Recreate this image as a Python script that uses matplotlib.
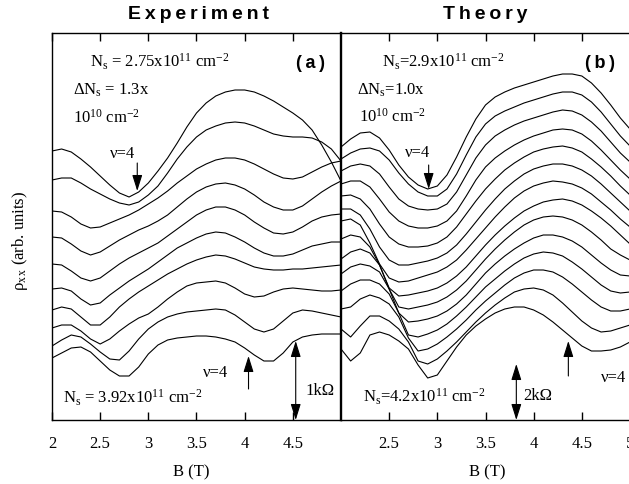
import matplotlib
matplotlib.use('Agg')
import matplotlib.pyplot as plt

plt.rcParams['font.family'] = ['Liberation Serif', 'DejaVu Serif']
plt.rcParams['mathtext.fontset'] = 'custom'
plt.rcParams['mathtext.rm'] = 'Liberation Serif'
plt.rcParams['mathtext.it'] = 'Liberation Serif:italic'

# magnetic field grid (T)
b_field = [2.0, 2.1, 2.2, 2.3, 2.4, 2.5, 2.6, 2.7, 2.8, 2.9, 3.0,
           3.1, 3.2, 3.3, 3.4, 3.5, 3.6, 3.7, 3.8, 3.9, 4.0,
           4.1, 4.2, 4.3, 4.4, 4.5, 4.6, 4.7, 4.8, 4.9, 5.0]

# experiment: rho_xx (arb. units, offset traces), Ns = 2.75 ... 3.92 x10^11 cm^-2
exp_275 = [269, 271, 268, 261, 253, 244, 235, 227, 223, 228, 237, 249, 262, 277, 293, 307,
           317, 324, 328, 330, 330, 328, 324, 319, 313, 307, 300, 290, 275, 258, 239]
exp_288 = [240, 242, 242, 237, 231, 226, 221, 217, 215, 218, 225, 234, 247, 261, 273, 283,
           290, 294, 297, 298, 297, 294, 290, 286, 284, 283, 283, 282, 278, 271, 259]
exp_301 = [209, 208, 203, 196, 192, 193, 197, 201, 205, 210, 216, 222, 229, 237, 244, 251,
           256, 260, 262, 262, 260, 256, 251, 246, 242, 241, 243, 248, 253, 257, 259]
exp_314 = [183, 182, 176, 169, 165, 168, 174, 180, 185, 190, 194, 199, 205, 213, 221, 228,
           233, 236, 237, 235, 231, 225, 218, 213, 210, 210, 214, 221, 228, 234, 239]
exp_327 = [156, 155, 149, 142, 139, 142, 149, 156, 162, 167, 172, 177, 184, 191, 198, 205,
           210, 213, 213, 210, 205, 198, 192, 187, 186, 188, 193, 199, 203, 205, 206]
exp_340 = [131, 132, 129, 121, 115, 117, 125, 132, 139, 145, 151, 158, 165, 172, 177, 182,
           186, 188, 187, 183, 178, 172, 167, 164, 164, 166, 170, 174, 176, 178, 178]
exp_353 = [110, 113, 111, 103, 95, 95, 103, 113, 121, 128, 134, 140, 146, 151, 156, 160,
           163, 165, 164, 161, 157, 153, 151, 150, 150, 151, 151, 152, 153, 154, 155]
exp_366 = [92, 95, 95, 89, 81, 76, 81, 89, 96, 102, 106, 113, 121, 128, 134, 137,
           138, 139, 137, 132, 126, 123, 124, 128, 131, 132, 131, 130, 129, 129, 130]
exp_379 = [74, 80, 85, 83, 76, 68, 61, 60, 69, 81, 91, 98, 103, 106, 108, 109,
           110, 111, 110, 105, 98, 91, 88, 91, 99, 107, 110, 109, 107, 105, 103]
exp_392 = [62, 67, 72, 73, 68, 59, 50, 44, 44, 53, 66, 75, 80, 82, 83, 84,
           84, 83, 81, 78, 72, 65, 59, 59, 67, 78, 83, 85, 86, 86, 86]

# theory: Ns = 2.9 ... 4.2 x10^11 cm^-2
th_290 = [273, 281, 287, 288, 282, 270, 255, 243, 235, 231, 234, 245, 263, 283, 301, 315,
          323, 328, 332, 335, 338, 341, 344, 346, 346, 344, 337, 327, 315, 302, 291]
th_300 = [261, 267, 271, 272, 269, 260, 247, 236, 228, 224, 224, 231, 246, 265, 283, 296,
          304, 309, 313, 317, 320, 323, 326, 328, 328, 325, 318, 308, 296, 284, 274]
th_310 = [249, 254, 256, 254, 246, 233, 221, 214, 211, 210, 211, 216, 228, 245, 262, 275,
          284, 290, 295, 299, 302, 305, 308, 310, 309, 305, 298, 289, 278, 267, 258]
th_320 = [236, 239, 239, 233, 221, 208, 199, 194, 192, 192, 194, 199, 209, 224, 240, 253,
          262, 269, 275, 280, 284, 287, 290, 291, 290, 286, 279, 270, 260, 250, 241]
th_330 = [224, 225, 221, 211, 196, 183, 176, 173, 173, 174, 177, 183, 193, 206, 219, 231,
          241, 250, 257, 263, 268, 271, 273, 274, 272, 268, 261, 253, 244, 234, 225]
th_340 = [211, 211, 205, 191, 173, 160, 155, 155, 157, 159, 162, 167, 175, 186, 198, 210,
          221, 231, 239, 246, 251, 254, 256, 256, 254, 250, 244, 236, 227, 218, 209]
th_350 = [199, 201, 195, 177, 156, 142, 138, 139, 142, 145, 148, 153, 160, 170, 181, 192,
          203, 213, 222, 229, 234, 237, 239, 238, 236, 232, 226, 218, 210, 201, 193]
th_360 = [181, 185, 183, 173, 155, 132, 124, 125, 127, 129, 132, 137, 144, 153, 164, 175,
          185, 194, 202, 209, 214, 218, 220, 221, 219, 215, 209, 202, 194, 185, 176]
th_370 = [161, 168, 171, 167, 155, 131, 113, 111, 113, 115, 118, 123, 130, 139, 150, 161,
          171, 180, 188, 195, 200, 203, 204, 203, 200, 195, 188, 180, 171, 165, 160]
th_380 = [146, 153, 156, 154, 148, 131, 107, 98, 99, 101, 104, 109, 116, 125, 136, 147,
          156, 164, 171, 177, 182, 185, 185, 183, 179, 173, 165, 157, 150, 145, 144]
th_390 = [129, 136, 140, 140, 136, 126, 107, 85, 83, 86, 90, 96, 104, 113, 123, 133,
          141, 149, 156, 162, 166, 168, 167, 164, 158, 151, 143, 135, 129, 127, 128]
th_400 = [111, 113, 121, 125, 122, 116, 103, 82, 69, 71, 76, 83, 91, 100, 110, 119,
          127, 135, 142, 147, 150, 150, 148, 143, 136, 128, 120, 113, 109, 109, 111]
th_410 = [91, 83, 94, 104, 104, 99, 91, 78, 59, 56, 61, 69, 78, 88, 98, 107,
          115, 122, 128, 131, 132, 130, 125, 117, 108, 99, 92, 88, 89, 92, 95]
th_420 = [71, 59, 67, 85, 88, 85, 79, 71, 55, 42, 45, 59, 73, 85, 94, 101,
          107, 111, 113, 113, 110, 105, 98, 90, 82, 74, 69, 69, 70, 73, 78]

exp_curves = [exp_275, exp_288, exp_301, exp_314, exp_327,
              exp_340, exp_353, exp_366, exp_379, exp_392]
th_curves = [th_290, th_300, th_310, th_320, th_330, th_340, th_350,
             th_360, th_370, th_380, th_390, th_400, th_410, th_420]

W, H = 629, 485


def fx(x):
    return x / W


def fy(y):
    return 1 - y / H


fig = plt.figure(figsize=(6.29, 4.85), dpi=100)
ax1 = fig.add_axes([fx(52), fy(421), 289 / W, 387 / H])
ax2 = fig.add_axes([fx(341), fy(421), 289 / W, 387 / H])

for rho in exp_curves:
    ax1.plot(b_field, rho, color='k', lw=0.8)
for rho in th_curves:
    ax2.plot(b_field, rho, color='k', lw=0.8)

for ax in (ax1, ax2):
    ax.set_xlim(2, 5)
    ax.set_ylim(0, 387)
    ax.set_yticks([])
    ax.tick_params(axis='x', direction='in', top=True, length=6, width=1.0,
                   labelsize=12, pad=11)
    for s in ax.spines.values():
        s.set_linewidth(1.0)

ax1.set_xticks([2, 2.5, 3, 3.5, 4, 4.5])
ax1.set_xticklabels(['2', '2.5', '3', '3.5', '4', '4.5'])
ax2.set_xticks([2.5, 3, 3.5, 4, 4.5, 5])
ax2.set_xticklabels(['2.5', '3', '3.5', '4', '4.5', '5'])
ax2.spines['left'].set_linewidth(1.7)
ax1.spines['right'].set_visible(False)

# arrows
head = dict(color='k', lw=0.8, shrinkA=0, shrinkB=0,
            arrowstyle='-|>,head_length=0.7,head_width=0.22', mutation_scale=14)
dbl = dict(color='k', lw=0.8, shrinkA=0, shrinkB=0,
           arrowstyle='<|-|>,head_length=0.7,head_width=0.22', mutation_scale=14)
ax1.annotate('', xy=(2.885, 229), xytext=(2.885, 257), arrowprops=head)
ax1.annotate('', xy=(4.04, 64), xytext=(4.04, 31), arrowprops=head)
ax1.annotate('', xy=(4.53, 79), xytext=(4.53, 0), arrowprops=dbl)
ax2.annotate('', xy=(2.91, 231), xytext=(2.91, 255), arrowprops=head)
ax2.annotate('', xy=(4.36, 79), xytext=(4.36, 44), arrowprops=head)
ax2.annotate('', xy=(3.82, 56), xytext=(3.82, 0), arrowprops=dbl)

# titles
sp = '\u2009'
fig.text(fx(198), fy(19), sp.join('Experiment'), ha='center', va='baseline',
         fontsize=14, fontweight='bold', family=['Liberation Sans', 'DejaVu Sans'])
fig.text(fx(485), fy(19), sp.join('Theory'), ha='center', va='baseline',
         fontsize=14, fontweight='bold', family=['Liberation Sans', 'DejaVu Sans'])
fig.text(fx(311), fy(68), sp.join('(a)'), ha='center', va='baseline',
         fontsize=13, fontweight='bold', family=['Liberation Sans', 'DejaVu Sans'])
fig.text(fx(600), fy(68), sp.join('(b)'), ha='center', va='baseline',
         fontsize=13, fontweight='bold', family=['Liberation Sans', 'DejaVu Sans'])

fs = 12
fig.text(fx(90), fy(67), r'N$_\mathrm{s}$ = 2.75x10$^{11}$ cm$^{-2}$', fontsize=fs, va='baseline')
fig.text(fx(73), fy(95), r'$\Delta$N$_\mathrm{s}$ = 1.3x', fontsize=fs, va='baseline')
fig.text(fx(73), fy(123), r'10$^{10}$ cm$^{-2}$', fontsize=fs, va='baseline')
fig.text(fx(110), fy(158), 'ν=4', fontsize=fs, va='baseline')
fig.text(fx(203), fy(377), 'ν=4', fontsize=fs, va='baseline')
fig.text(fx(305), fy(395), '1kΩ', fontsize=fs, va='baseline')
fig.text(fx(63), fy(403), r'N$_\mathrm{s}$ = 3.92x10$^{11}$ cm$^{-2}$', fontsize=fs, va='baseline')

fig.text(fx(382), fy(67), r'N$_\mathrm{s}$=2.9x10$^{11}$ cm$^{-2}$', fontsize=fs, va='baseline')
fig.text(fx(357), fy(95), r'$\Delta$N$_\mathrm{s}$=1.0x', fontsize=fs, va='baseline')
fig.text(fx(359), fy(122), r'10$^{10}$ cm$^{-2}$', fontsize=fs, va='baseline')
fig.text(fx(405), fy(157), 'ν=4', fontsize=fs, va='baseline')
fig.text(fx(601), fy(382), 'ν=4', fontsize=fs, va='baseline')
fig.text(fx(523), fy(400), '2kΩ', fontsize=fs, va='baseline')
fig.text(fx(363), fy(402), r'N$_\mathrm{s}$=4.2x10$^{11}$ cm$^{-2}$', fontsize=fs, va='baseline')

fig.text(fx(191), fy(476), 'B (T)', fontsize=12, ha='center', va='baseline')
fig.text(fx(487), fy(476), 'B (T)', fontsize=12, ha='center', va='baseline')
fig.text(fx(20), fy(241), r'ρ$_{\mathrm{x\,x}}$ (arb. units)', fontsize=12,
         rotation=90, ha='center', va='center')

fig.savefig('out.png', dpi=100)
